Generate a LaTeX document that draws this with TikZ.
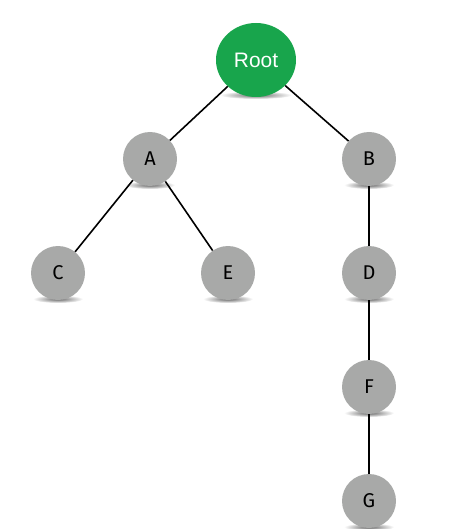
\documentclass[tikz,border=0pt]{standalone}
\usepackage{fontspec}
\usetikzlibrary{shapes.geometric}
\setmainfont{Fira Sans}
\newfontfamily\rootfont{Liberation Sans}
\definecolor{rootgreen}{RGB}{24,165,76}
\definecolor{nodegray}{RGB}{168,169,168}
\begin{document}
\begin{tikzpicture}[x=1bp,y=-1bp,
  leaf/.style={circle,fill=nodegray,minimum size=54bp,inner sep=0pt,font=\fontsize{20}{20}\selectfont},
  rootnode/.style={ellipse,fill=rootgreen,minimum width=80bp,minimum height=74bp,inner sep=0pt,text=white,font=\rootfont\fontsize{21}{21}\selectfont},
  edge/.style={draw=black,line width=1.6bp}]
\useasboundingbox (0,0) rectangle (474,529);
% shadows
\foreach \x/\y/\r in {256/95/36,150/185/25,369/185/25,58/299/25,228/299/25,369/299/25,369/413/25,369/527/25}{
  \shade[inner color=black!60,outer color=white] (\x,\y) ellipse [x radius=\r bp,y radius=4bp];
}
\node[rootnode] (root) at (256,60) {Root};
\node[leaf] (a) at (150,159) {A};
\node[leaf] (b) at (369,159) {B};
\node[leaf] (c) at (58,273) {C};
\node[leaf] (e) at (228,273) {E};
\node[leaf] (d) at (369,273) {D};
\node[leaf] (f) at (369,387) {F};
\node[leaf] (g) at (369,501) {G};
\draw[edge] (root) -- (a);
\draw[edge] (root) -- (b);
\draw[edge] (a) -- (c);
\draw[edge] (a) -- (e);
\draw[edge] (b) -- (d);
\draw[edge] (d) -- (f);
\draw[edge] (f) -- (g);
\end{tikzpicture}
\end{document}
